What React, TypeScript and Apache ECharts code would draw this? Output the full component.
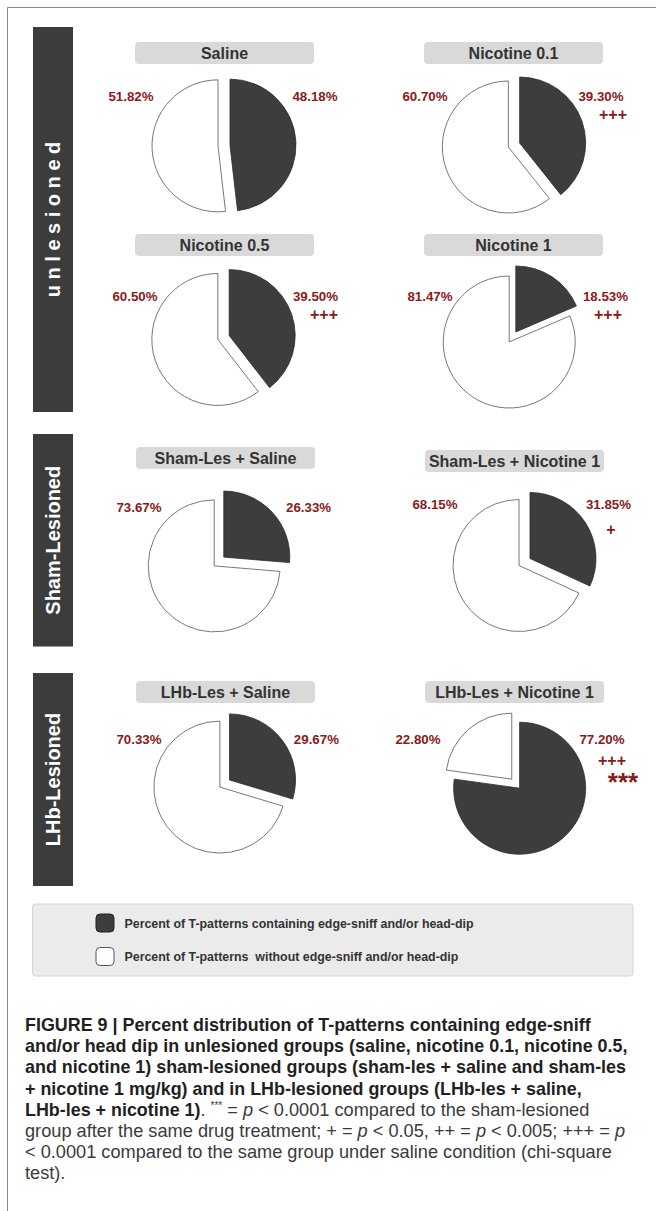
import React, { useEffect, useRef } from "react";
import * as echarts from "echarts";

// ---- data ----
const groupNames = ["u n l e s i o n e d", "Sham-Lesioned", "LHb-Lesioned"];
const panelTitles = [
  "Saline",
  "Nicotine 0.1",
  "Nicotine 0.5",
  "Nicotine 1",
  "Sham-Les + Saline",
  "Sham-Les + Nicotine 1",
  "LHb-Les + Saline",
  "LHb-Les + Nicotine 1",
];
const withEdgeSniff = [48.18, 39.3, 39.5, 18.53, 26.33, 31.85, 29.67, 77.2];
const withoutEdgeSniff = [51.82, 60.7, 60.5, 81.47, 73.67, 68.15, 70.33, 22.8];
const salineMarks = ["", "+++", "+++", "+++", "", "+", "", "+++"];
const shamMarks = ["", "", "", "", "", "", "", "***"];
const legendLabels = [
  "Percent of T-patterns containing edge-sniff and/or head-dip",
  "Percent of T-patterns  without edge-sniff and/or head-dip",
];

// ---- layout ----
const pieCenters = [
  [224, 145.5], [514, 145], [223.5, 337.5], [512.5, 337],
  [219, 561.5], [524.5, 562], [224.7, 783.5], [515.7, 783.7],
];
const titleBoxes = [
  [135, 42], [424, 42], [135, 234], [424, 234],
  [136, 447], [425, 450], [136, 681], [425, 681],
];
const leftLabelPos = [
  [131, 96], [425, 96], [135, 296], [430, 296],
  [139, 507], [435, 504], [139, 739], [418, 739],
];
const rightLabelPos = [
  [315, 96], [601, 96], [315.5, 296], [605.5, 296],
  [308.6, 507], [608.5, 504], [316.4, 739], [602, 739],
];
const markPos = [
  [0, 0], [613, 114], [324, 314], [608, 314],
  [0, 0], [611, 529], [0, 0], [612, 760],
];
const starPos = [
  [0, 0], [0, 0], [0, 0], [0, 0], [0, 0], [0, 0], [0, 0], [623, 782],
];
const sideBars = [
  [33, 27, 40, 385],
  [33, 434, 40, 212.5],
  [33, 673, 40, 213],
];

const FONT = '"Liberation Sans", Arial, Helvetica, sans-serif';
const RED = "#8b1a1a";
const DARK = "#3d3d3d";

export default function App() {
  const ref = useRef<HTMLDivElement>(null);
  useEffect(() => {
    document.body.style.margin = "0";
    if (!ref.current) return;
    const chart = echarts.init(ref.current, null, { renderer: "svg" });

    const series: any[] = panelTitles.map((name, i) => ({
      type: "pie",
      name,
      center: pieCenters[i],
      radius: 66,
      startAngle: 90,
      clockwise: true,
      selectedMode: "multiple",
      selectedOffset: i === 4 || i === 5 ? 6.5 : 6,
      avoidLabelOverlap: false,
      silent: true,
      label: { show: false },
      labelLine: { show: false },
      emphasis: { disabled: true },
      data: [
        {
          name: "with",
          value: withEdgeSniff[i],
          selected: true,
          itemStyle: { color: DARK, borderColor: "#2b2b2b", borderWidth: 0.8 },
          select: { itemStyle: { color: DARK, borderColor: "#2b2b2b", borderWidth: 0.8 } },
        },
        {
          name: "without",
          value: withoutEdgeSniff[i],
          selected: true,
          itemStyle: { color: "#ffffff", borderColor: "#555555", borderWidth: 0.8 },
          select: { itemStyle: { color: "#ffffff", borderColor: "#555555", borderWidth: 0.8 } },
        },
      ],
    }));

    const g: any[] = [];
    // outer frame
    g.push({
      type: "rect",
      shape: { x: 7.5, y: 7.5, width: 800, height: 1400 },
      style: { fill: "none", stroke: "#8a8a8a", lineWidth: 1 },
      silent: true,
    });
    // side bars
    sideBars.forEach((b, k) => {
      g.push({
        type: "rect",
        shape: { x: b[0], y: b[1], width: b[2], height: b[3] },
        style: { fill: "#3c3c3c" },
      });
      g.push({
        type: "text",
        x: b[0] + b[2] / 2,
        y: b[1] + b[3] / 2,
        rotation: Math.PI / 2,
        style: {
          text: groupNames[k],
          fill: "#ffffff",
          fontSize: 20,
          fontWeight: "bold",
          fontFamily: FONT,
          align: "center",
          verticalAlign: "middle",
        },
      });
    });
    // titles and labels
    panelTitles.forEach((t, i) => {
      const [bx, by] = titleBoxes[i];
      g.push({
        type: "rect",
        shape: { x: bx, y: by, width: 179, height: 22, r: 4 },
        style: { fill: "#d9d9d9" },
      });
      g.push({
        type: "text",
        x: bx + 89.5,
        y: by + 11.5,
        style: {
          text: t,
          fill: "#333333",
          fontSize: 16,
          fontWeight: "bold",
          fontFamily: FONT,
          align: "center",
          verticalAlign: "middle",
        },
      });
      const labelStyle = {
        fill: RED,
        fontSize: 13.3,
        fontWeight: "bold",
        fontFamily: FONT,
        align: "center",
        verticalAlign: "middle",
      };
      g.push({
        type: "text",
        x: leftLabelPos[i][0],
        y: leftLabelPos[i][1],
        style: { ...labelStyle, text: withoutEdgeSniff[i].toFixed(2) + "%" },
      });
      g.push({
        type: "text",
        x: rightLabelPos[i][0],
        y: rightLabelPos[i][1],
        style: { ...labelStyle, text: withEdgeSniff[i].toFixed(2) + "%" },
      });
      if (salineMarks[i]) {
        g.push({
          type: "text",
          x: markPos[i][0],
          y: markPos[i][1],
          style: { ...labelStyle, fontSize: 16, text: salineMarks[i] },
        });
      }
      if (shamMarks[i]) {
        g.push({
          type: "text",
          x: starPos[i][0],
          y: starPos[i][1],
          style: { ...labelStyle, fontSize: 26, text: shamMarks[i] },
        });
      }
    });
    // legend
    g.push({
      type: "rect",
      shape: { x: 32.5, y: 904, width: 600.5, height: 72, r: 3 },
      style: { fill: "#ebebeb", stroke: "#d6d6d6", lineWidth: 1 },
    });
    [
      [DARK, "#222222"],
      ["#ffffff", "#555555"],
    ].forEach((c, k) => {
      const yy = k === 0 ? 914 : 947.5;
      g.push({
        type: "rect",
        shape: { x: 96, y: yy, width: 18, height: 18, r: 4 },
        style: { fill: c[0], stroke: c[1], lineWidth: 1 },
      });
      g.push({
        type: "text",
        x: 124.5,
        y: yy + 9.5,
        style: {
          text: legendLabels[k],
          fill: "#333333",
          fontSize: 12.4,
          fontWeight: "bold",
          fontFamily: FONT,
          align: "left",
          verticalAlign: "middle",
        },
      });
    });
    // caption
    const rich = {
      b: { fontSize: 17.9, fontWeight: "bold", fontFamily: FONT, fill: "#231f20" },
      n: { fontSize: 18.2, fontWeight: "normal", fontFamily: FONT, fill: "#3a3a3a" },
      i: { fontSize: 18.2, fontStyle: "italic", fontFamily: FONT, fill: "#3a3a3a" },
      s: { fontSize: 10, fontFamily: FONT, fill: "#3a3a3a", verticalAlign: "top" },
    };
    const captionLines = [
      "{b|FIGURE 9 | Percent distribution of T-patterns containing edge-sniff}",
      "{b|and/or head dip in unlesioned groups (saline, nicotine 0.1, nicotine 0.5,}",
      "{b|and nicotine 1) sham-lesioned groups (sham-les + saline and sham-les}",
      "{b|+ nicotine 1 mg/kg) and in LHb-lesioned groups (LHb-les + saline,}",
      "{b|LHb-les + nicotine 1)}{n|. }{s|***}{n| = }{i|p}{n| < 0.0001 compared to the sham-lesioned}",
      "{n|group after the same drug treatment; + = }{i|p}{n| < 0.05, ++ = }{i|p}{n| < 0.005; +++ = }{i|p}",
      "{n|< 0.0001 compared to the same group under saline condition (chi-square}",
      "{n|test).}",
    ];
    captionLines.forEach((line, k) => {
      g.push({
        type: "text",
        x: 25,
        y: 1025 + k * 21.2,
        style: {
          text: line,
          rich,
          fontFamily: FONT,
          fontSize: 18,
          align: "left",
          verticalAlign: "middle",
        },
      });
    });

    chart.setOption({
      animation: false,
      backgroundColor: "#ffffff",
      series,
      graphic: { elements: g },
    });
    return () => chart.dispose();
  }, []);
  return <div ref={ref} style={{ width: 656, height: 1211 }} />;
}
